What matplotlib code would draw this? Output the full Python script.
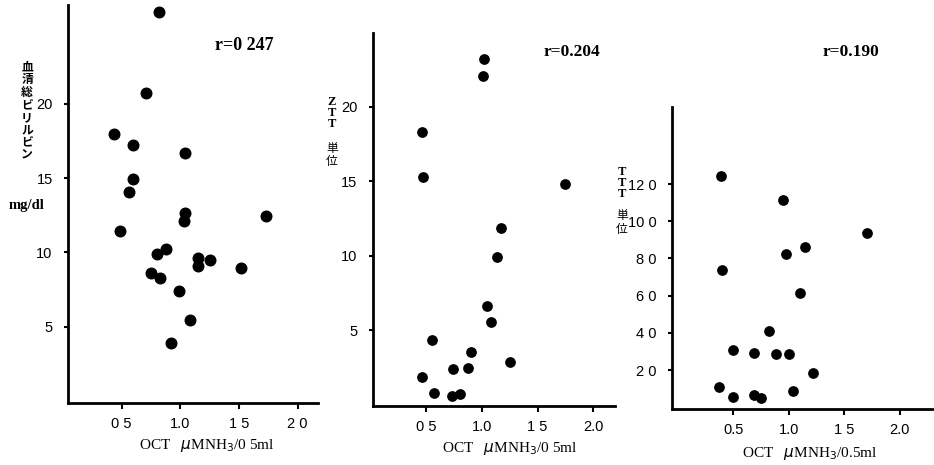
import matplotlib
matplotlib.use("Agg")
import matplotlib.pyplot as plt

plt.rcParams['font.family'] = ['Liberation Sans', 'Noto Sans CJK JP', 'DejaVu Sans']

# ---- data ----
bil_x = [0.816, 0.705, 0.437, 0.597, 1.043, 0.600, 0.563, 1.043, 1.030, 1.730, 0.483,
         0.880, 0.800, 1.150, 1.253, 1.148, 1.520, 0.753, 0.830, 0.990, 1.085, 0.918]
bil_y = [26.2, 20.7, 17.97, 17.25, 16.67, 14.92, 14.09, 12.67, 12.09, 12.45, 11.46,
         10.25, 9.89, 9.62, 9.51, 9.10, 8.93, 8.59, 8.30, 7.38, 5.47, 3.92]

ztt_x = [1.022, 1.013, 0.461, 0.473, 1.745, 1.175, 1.139, 1.049, 1.080, 0.557, 0.906,
         1.253, 0.742, 0.874, 0.467, 0.569, 0.736, 0.805]
ztt_y = [23.21, 22.07, 18.33, 15.30, 14.81, 11.83, 9.88, 6.63, 5.54, 4.35, 3.50,
         2.87, 2.40, 2.45, 1.84, 0.75, 0.54, 0.68]

ttt_x = [0.392, 0.951, 1.707, 1.144, 0.976, 0.401, 1.105, 0.822, 0.494, 0.687, 0.888,
         1.000, 1.216, 0.374, 0.494, 0.684, 0.747, 1.036]
ttt_y = [12.43, 11.14, 9.37, 8.63, 8.24, 7.38, 6.16, 4.08, 3.09, 2.90, 2.86,
         2.86, 1.85, 1.07, 0.56, 0.67, 0.48, 0.85]

xticks = [0.5, 1.0, 1.5, 2.0]
xlabels1 = ["0 5", "1.0", "1 5", "2 0"]
xlabels2 = ["0 5", "1.0", "1 5", "2.0"]
xlabels3 = ["0.5", "1.0", "1 5", "2.0"]
yticks12 = [5, 10, 15, 20]
ylabels12 = ["5", "10", "15", "20"]
yticks3 = [2, 4, 6, 8, 10, 12]
ylabels3 = ["2 0", "4 0", "6 0", "8 0", "10 0", "12 0"]

r_labels = ["r=0 247", "r=0.204", "r=0.190"]
xtitle12 = "OCT   $\\mu$MNH$_3$/0 5ml"
xtitle3 = "OCT   $\\mu$MNH$_3$/0.5ml"
ytitle1 = "血清総ビリルビン"
ytitle1_unit = "mg/dl"
ytitle2 = "ZTT"
ytitle3 = "TTT"
unit_jp = "単位"

W, H = 934, 465
fig = plt.figure(figsize=(W / 100, H / 100), dpi=100)


def make_ax(l, r, b, t):
    return fig.add_axes([l / W, 1 - b / H, (r - l) / W, (b - t) / H])


def style(ax, xlim, ylim, xt, xl, yt, yl):
    ax.set_xlim(*xlim)
    ax.set_ylim(*ylim)
    for s in ['top', 'right']:
        ax.spines[s].set_visible(False)
    for s in ['left', 'bottom']:
        ax.spines[s].set_linewidth(2.0)
        ax.spines[s].set_color('black')
    ax.set_xticks(xt)
    ax.set_xticklabels(xl, fontsize=10.5)
    ax.set_yticks(yt)
    ax.set_yticklabels(yl, fontsize=10.5)
    ax.tick_params(axis='x', direction='out', length=4, width=1.5, pad=6)
    ax.tick_params(axis='y', direction='out', length=3, width=1.5, pad=8)
    ax.patch.set_alpha(0)


def vtext(x, y, chars, ls, **kw):
    fig.text(x / W, 1 - y / H, "\n".join(chars), ha='center', va='center',
             linespacing=ls, **kw)


# panel 1
ax1 = make_ax(68, 318, 403, 5)
ax1.scatter(bil_x, bil_y, s=58, color='black', zorder=3, clip_on=False)
style(ax1, (0.043, 2.174), (-0.13, 26.65), xticks, xlabels1, yticks12, ylabels12)

# panel 2
ax2 = make_ax(372.7, 615, 405.7, 33)
ax2.scatter(ztt_x, ztt_y, s=45, color='black', zorder=3, clip_on=False)
style(ax2, (0.022, 2.194), (-0.087, 24.96), xticks, xlabels2, yticks12, ylabels12)

# panel 3
ax3 = make_ax(671.7, 934, 409.3, 106.7)
ax3.scatter(ttt_x, ttt_y, s=45, color='black', zorder=3, clip_on=False)
style(ax3, (-0.056, 2.31), (-0.11, 16.16), xticks, xlabels3, yticks3, ylabels3)

# r labels
serif = ['Liberation Serif', 'DejaVu Serif']
fig.text(244 / W, 1 - 45 / H, r_labels[0], family=serif, fontsize=13, weight='bold',
         ha='center', va='center')
fig.text(572 / W, 1 - 52 / H, r_labels[1], family=serif, fontsize=12.5, weight='bold',
         ha='center', va='center')
fig.text(851 / W, 1 - 52 / H, r_labels[2], family=serif, fontsize=12.5, weight='bold',
         ha='center', va='center')

# x titles
fig.text(207 / W, 1 - 445 / H, xtitle12, family=serif, fontsize=11, ha='center', va='center')
fig.text(510 / W, 1 - 448 / H, xtitle12, family=serif, fontsize=11, ha='center', va='center')
fig.text(810 / W, 1 - 453 / H, xtitle3, family=serif, fontsize=11, ha='center', va='center')

# y titles (vertical Japanese)
cjk = ['Noto Sans CJK JP', 'DejaVu Sans']
vtext(27, 111, ytitle1, 0.95, family=cjk, fontsize=8.5, weight='bold')
fig.text(27 / W, 1 - 205 / H, ytitle1_unit, family=serif, fontsize=10.5, weight='bold',
         ha='center', va='center')

vtext(332, 113, ytitle2, 0.85, family=serif, fontsize=9, weight='bold')
vtext(332, 155, unit_jp, 0.95, family=cjk, fontsize=8.5)

vtext(622, 183, ytitle3, 0.85, family=serif, fontsize=9, weight='bold')
vtext(622, 223, unit_jp, 1.1, family=cjk, fontsize=8.5)

fig.savefig("out.png", dpi=100, facecolor='white')
